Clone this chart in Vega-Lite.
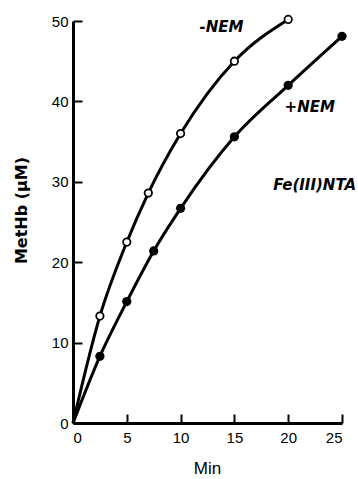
{
  "$schema": "https://vega.github.io/schema/vega-lite/v6.json",
  "width": 269,
  "height": 402,
  "autosize": {"type": "none"},
  "padding": {"left": 73, "top": 21, "right": 16, "bottom": 56},
  "background": "white",
  "config": {
    "view": {"stroke": null},
    "font": "Liberation Sans",
    "axis": {
      "domainColor": "black",
      "domainWidth": 3,
      "tickColor": "black",
      "tickWidth": 2,
      "tickSize": -9,
      "labelColor": "black",
      "labelFont": "Liberation Sans",
      "labelFontSize": 15,
      "grid": false,
      "titleColor": "black"
    }
  },
  "datasets": {
    "curves": [
      {"series": "-NEM", "t": 0, "v": 0},
      {"series": "-NEM", "t": 2.5, "v": 13.3},
      {"series": "-NEM", "t": 5, "v": 22.5},
      {"series": "-NEM", "t": 7, "v": 28.6},
      {"series": "-NEM", "t": 10, "v": 36},
      {"series": "-NEM", "t": 15, "v": 45},
      {"series": "-NEM", "t": 20, "v": 50.2},
      {"series": "+NEM", "t": 0, "v": 0},
      {"series": "+NEM", "t": 2.5, "v": 8.3},
      {"series": "+NEM", "t": 5, "v": 15.1},
      {"series": "+NEM", "t": 7.5, "v": 21.4},
      {"series": "+NEM", "t": 10, "v": 26.7},
      {"series": "+NEM", "t": 15, "v": 35.6},
      {"series": "+NEM", "t": 20, "v": 42},
      {"series": "+NEM", "t": 25, "v": 48.1}
    ],
    "labels": [
      {"text": "-NEM", "t": 13.8, "v": 49.3, "a": "center"},
      {"text": "+NEM", "t": 22.0, "v": 39.3, "a": "center"},
      {"text": "Fe(III)NTA", "t": 18.6, "v": 29.6, "a": "left"}
    ]
  },
  "layer": [
    {
      "data": {"name": "curves"},
      "mark": {"type": "line", "color": "black", "strokeWidth": 3, "interpolate": "monotone"},
      "encoding": {
        "x": {
          "field": "t", "type": "quantitative",
          "scale": {"domain": [0, 25], "nice": false},
          "axis": {"values": [0, 5, 10, 15, 20, 25], "title": "Min", "titleFont": "Liberation Sans", "titleFontSize": 17, "titleFontWeight": "normal", "titleX": 134, "titleY": 45, "titleBaseline": "middle", "labelPadding": 16}
        },
        "y": {
          "field": "v", "type": "quantitative",
          "scale": {"domain": [0, 50], "nice": false},
          "axis": {"values": [0, 10, 20, 30, 40, 50], "title": "MetHb  (\u00b5M)", "titleFont": "DejaVu Sans", "titleFontSize": 16, "titleFontWeight": "bold", "titleAngle": -90, "titleX": -52, "titleY": 189, "titleBaseline": "middle", "titleAlign": "center", "labelPadding": 14}
        },
        "detail": {"field": "series"}
      }
    },
    {
      "data": {"name": "curves"},
      "transform": [{"filter": "datum.series == '-NEM' && datum.t > 0"}],
      "mark": {"type": "point", "shape": "circle", "filled": false, "fill": "white", "stroke": "black", "strokeWidth": 1.8, "size": 55, "opacity": 1},
      "encoding": {
        "x": {"field": "t", "type": "quantitative"},
        "y": {"field": "v", "type": "quantitative"}
      }
    },
    {
      "data": {"name": "curves"},
      "transform": [{"filter": "datum.series == '+NEM' && datum.t > 0"}],
      "mark": {"type": "point", "shape": "circle", "filled": true, "color": "black", "size": 85, "opacity": 1},
      "encoding": {
        "x": {"field": "t", "type": "quantitative"},
        "y": {"field": "v", "type": "quantitative"}
      }
    },
    {
      "data": {"name": "labels"},
      "transform": [{"filter": "datum.a == 'center'"}],
      "mark": {"type": "text", "align": "center", "baseline": "middle", "fontStyle": "italic", "fontWeight": "bold", "fontSize": 15, "font": "DejaVu Sans", "color": "black"},
      "encoding": {
        "x": {"field": "t", "type": "quantitative"},
        "y": {"field": "v", "type": "quantitative"},
        "text": {"field": "text"}
      }
    },
    {
      "data": {"name": "labels"},
      "transform": [{"filter": "datum.a == 'left'"}],
      "mark": {"type": "text", "align": "left", "baseline": "middle", "fontStyle": "italic", "fontWeight": "bold", "fontSize": 15, "font": "DejaVu Sans", "color": "black"},
      "encoding": {
        "x": {"field": "t", "type": "quantitative"},
        "y": {"field": "v", "type": "quantitative"},
        "text": {"field": "text"}
      }
    }
  ]
}
